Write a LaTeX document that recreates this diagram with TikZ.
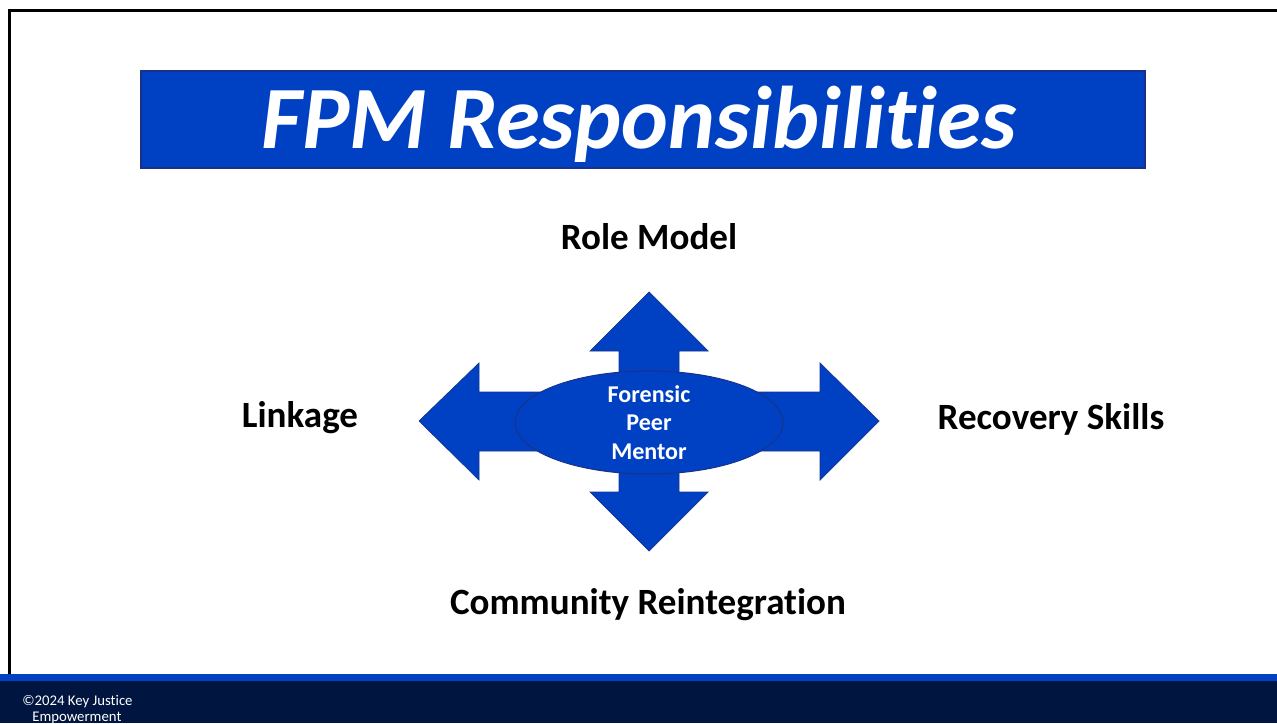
\documentclass[tikz,border=0pt]{standalone}
\usepackage{fontspec}
\setmainfont[Ligatures=NoCommon]{Carlito}
\usepackage{tikz}
\usetikzlibrary{positioning, shapes.geometric}
\usepackage{xcolor}
\definecolor{slideblue}{RGB}{0,65,196}
\definecolor{edgeblue}{RGB}{24,50,140}
\definecolor{footnavy}{RGB}{0,22,64}

\tikzset{
  duty/.style={font=\fontsize{21.1}{25}\selectfont\bfseries, text=black},
}

\begin{document}
\begin{tikzpicture}[x=0.02cm, y=-0.02cm]
\useasboundingbox (0,0) rectangle (1277,723);
\fill[white] (0,0) rectangle (1277,723);
% frame and footer band
\draw[line width=1.7pt, black] (9.5,675) -- (9.5,10.5) -- (1277,10.5);
\fill[slideblue] (0,674) rectangle (1277,681);
\fill[footnavy] (0,681) rectangle (1277,723);
\node[anchor=base west, text=white, font=\fontsize{8.4}{9}\selectfont, inner sep=0pt] (copy) at (22,705) {\textcopyright2024 Key Justice};
\node[anchor=base west, text=white, font=\fontsize{8.4}{9}\selectfont, inner sep=0pt] (copy2) at (32,721) {Empowerment};
% title banner
\draw[fill=slideblue, draw=edgeblue, line width=0.6pt] (141,71) rectangle (1145,168);
\node[text=white, font=\fontsize{50.6}{56}\selectfont\bfseries\itshape, anchor=base] (title) at (639,148) {FPM Responsibilities};
% four-way arrow
\coordinate (C) at (649,421);
\draw[fill=slideblue, draw=edgeblue, line width=0.4pt]
  (649,292) -- (708,351) -- (679,351) -- (679,392) -- (820,392) -- (820,363)
  -- (879,421) -- (820,480) -- (820,451) -- (679,451) -- (679,492) -- (708,492)
  -- (649,551) -- (590,492) -- (619,492) -- (619,451) -- (479,451) -- (479,480)
  -- (419,421) -- (479,363) -- (479,392) -- (619,392) -- (619,351) -- (590,351) -- cycle;
\node[ellipse, fill=slideblue, draw=edgeblue, line width=0.6pt,
      minimum width=268*0.02cm, minimum height=103*0.02cm, inner sep=0pt] (mentor) at (649,422.5) {};
\node[text=white, font=\fontsize{13.7}{16.4}\selectfont\bfseries, align=center] at (mentor) {Forensic\\Peer\\Mentor};
% responsibilities
\node[duty] (role) at (649,237) {Role Model};
\node[duty] (linkage) at (300,418) {Linkage};
\node[duty] (recovery) at (1051,419) {Recovery Skills};
\node[duty] (community) at (648,605) {Community Reintegration};
\end{tikzpicture}
\end{document}
